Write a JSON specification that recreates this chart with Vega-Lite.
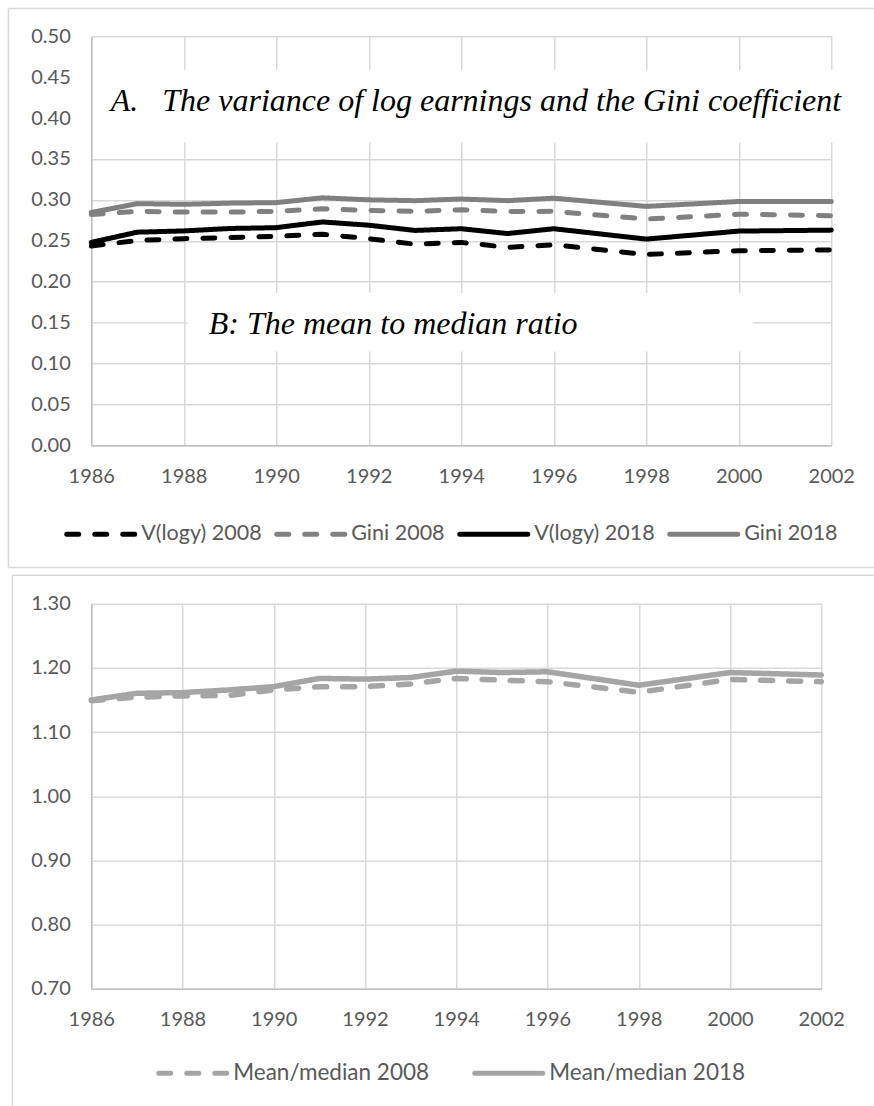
{
  "$schema": "https://vega.github.io/schema/vega-lite/v6.json",
  "background": "white",
  "padding": {"left": 7.25, "top": 7.25, "right": 0, "bottom": 0},
  "datasets": {
    "top": [
      {"year": 1986, "series": "V(logy) 2008", "value": 0.2437},
      {"year": 1987, "series": "V(logy) 2008", "value": 0.2504},
      {"year": 1988, "series": "V(logy) 2008", "value": 0.2525},
      {"year": 1989, "series": "V(logy) 2008", "value": 0.254},
      {"year": 1990, "series": "V(logy) 2008", "value": 0.2555},
      {"year": 1991, "series": "V(logy) 2008", "value": 0.258},
      {"year": 1992, "series": "V(logy) 2008", "value": 0.2525},
      {"year": 1993, "series": "V(logy) 2008", "value": 0.2458},
      {"year": 1994, "series": "V(logy) 2008", "value": 0.248},
      {"year": 1995, "series": "V(logy) 2008", "value": 0.242},
      {"year": 1996, "series": "V(logy) 2008", "value": 0.245},
      {"year": 1998, "series": "V(logy) 2008", "value": 0.2332},
      {"year": 2000, "series": "V(logy) 2008", "value": 0.2378},
      {"year": 2002, "series": "V(logy) 2008", "value": 0.2387},
      {"year": 1986, "series": "Gini 2008", "value": 0.282},
      {"year": 1987, "series": "Gini 2008", "value": 0.286},
      {"year": 1988, "series": "Gini 2008", "value": 0.285},
      {"year": 1989, "series": "Gini 2008", "value": 0.285},
      {"year": 1990, "series": "Gini 2008", "value": 0.286},
      {"year": 1991, "series": "Gini 2008", "value": 0.289},
      {"year": 1992, "series": "Gini 2008", "value": 0.287},
      {"year": 1993, "series": "Gini 2008", "value": 0.286},
      {"year": 1994, "series": "Gini 2008", "value": 0.288},
      {"year": 1995, "series": "Gini 2008", "value": 0.2857},
      {"year": 1996, "series": "Gini 2008", "value": 0.286},
      {"year": 1998, "series": "Gini 2008", "value": 0.2765},
      {"year": 2000, "series": "Gini 2008", "value": 0.2824},
      {"year": 2002, "series": "Gini 2008", "value": 0.2807},
      {"year": 1986, "series": "V(logy) 2018", "value": 0.248},
      {"year": 1987, "series": "V(logy) 2018", "value": 0.2605},
      {"year": 1988, "series": "V(logy) 2018", "value": 0.262},
      {"year": 1989, "series": "V(logy) 2018", "value": 0.265},
      {"year": 1990, "series": "V(logy) 2018", "value": 0.266},
      {"year": 1991, "series": "V(logy) 2018", "value": 0.273},
      {"year": 1992, "series": "V(logy) 2018", "value": 0.269},
      {"year": 1993, "series": "V(logy) 2018", "value": 0.2626},
      {"year": 1994, "series": "V(logy) 2018", "value": 0.2647},
      {"year": 1995, "series": "V(logy) 2018", "value": 0.2588},
      {"year": 1996, "series": "V(logy) 2018", "value": 0.2647},
      {"year": 1998, "series": "V(logy) 2018", "value": 0.252},
      {"year": 2000, "series": "V(logy) 2018", "value": 0.2618},
      {"year": 2002, "series": "V(logy) 2018", "value": 0.263},
      {"year": 1986, "series": "Gini 2018", "value": 0.2845},
      {"year": 1987, "series": "Gini 2018", "value": 0.2954},
      {"year": 1988, "series": "Gini 2018", "value": 0.2945},
      {"year": 1989, "series": "Gini 2018", "value": 0.296},
      {"year": 1990, "series": "Gini 2018", "value": 0.2966},
      {"year": 1991, "series": "Gini 2018", "value": 0.3025},
      {"year": 1992, "series": "Gini 2018", "value": 0.3},
      {"year": 1993, "series": "Gini 2018", "value": 0.299},
      {"year": 1994, "series": "Gini 2018", "value": 0.301},
      {"year": 1995, "series": "Gini 2018", "value": 0.299},
      {"year": 1996, "series": "Gini 2018", "value": 0.302},
      {"year": 1998, "series": "Gini 2018", "value": 0.292},
      {"year": 2000, "series": "Gini 2018", "value": 0.298},
      {"year": 2002, "series": "Gini 2018", "value": 0.298}
    ],
    "bottom": [
      {"year": 1986, "series": "Mean/median 2008", "value": 1.149},
      {"year": 1987, "series": "Mean/median 2008", "value": 1.1544},
      {"year": 1988, "series": "Mean/median 2008", "value": 1.1564},
      {"year": 1989, "series": "Mean/median 2008", "value": 1.157},
      {"year": 1990, "series": "Mean/median 2008", "value": 1.1656},
      {"year": 1991, "series": "Mean/median 2008", "value": 1.1708},
      {"year": 1992, "series": "Mean/median 2008", "value": 1.1708},
      {"year": 1993, "series": "Mean/median 2008", "value": 1.175},
      {"year": 1994, "series": "Mean/median 2008", "value": 1.1836},
      {"year": 1995, "series": "Mean/median 2008", "value": 1.181},
      {"year": 1996, "series": "Mean/median 2008", "value": 1.1785},
      {"year": 1998, "series": "Mean/median 2008", "value": 1.162},
      {"year": 2000, "series": "Mean/median 2008", "value": 1.182},
      {"year": 2002, "series": "Mean/median 2008", "value": 1.1785},
      {"year": 1986, "series": "Mean/median 2018", "value": 1.15},
      {"year": 1987, "series": "Mean/median 2018", "value": 1.1605},
      {"year": 1988, "series": "Mean/median 2018", "value": 1.1615},
      {"year": 1989, "series": "Mean/median 2018", "value": 1.1656},
      {"year": 1990, "series": "Mean/median 2018", "value": 1.1708},
      {"year": 1991, "series": "Mean/median 2018", "value": 1.1836},
      {"year": 1992, "series": "Mean/median 2018", "value": 1.1826},
      {"year": 1993, "series": "Mean/median 2018", "value": 1.185},
      {"year": 1994, "series": "Mean/median 2018", "value": 1.195},
      {"year": 1995, "series": "Mean/median 2018", "value": 1.1928},
      {"year": 1996, "series": "Mean/median 2018", "value": 1.194},
      {"year": 1998, "series": "Mean/median 2018", "value": 1.173},
      {"year": 2000, "series": "Mean/median 2018", "value": 1.1928},
      {"year": 2002, "series": "Mean/median 2018", "value": 1.189}
    ]
  },
  "config": {
    "view": {"stroke": null},
    "axis": {
      "labelFont": "Lato",
      "labelFontSize": 20,
      "labelColor": "#595959",
      "gridColor": "#d9d9d9",
      "gridWidth": 1.5,
      "domainColor": "#bfbfbf",
      "domainWidth": 1.5,
      "ticks": false,
      "tickSize": 0,
      "title": null
    },
    "legend": {
      "orient": "none",
      "direction": "horizontal",
      "title": null,
      "symbolType": "stroke",
      "symbolSize": 4624,
      "symbolStrokeWidth": 5,
      "labelFont": "Lato",
      "labelFontSize": 21.5,
      "labelColor": "#595959",
      "labelOffset": 4,
      "labelLimit": 400
    }
  },
  "spacing": 4.5,
  "resolve": {
    "scale": {"x": "independent", "y": "independent", "color": "independent", "strokeDash": "independent"},
    "legend": {"color": "independent", "strokeDash": "independent"}
  },
  "vconcat": [
    {
      "width": 740,
      "height": 409,
      "layer": [
        {
          "data": {"name": "top"},
          "mark": {"type": "line", "strokeWidth": 5, "strokeCap": "round", "strokeJoin": "round"},
          "encoding": {
            "x": {
              "field": "year", "type": "quantitative",
              "scale": {"domain": [1986, 2002], "nice": false, "zero": false},
              "axis": {"values": [1986, 1988, 1990, 1992, 1994, 1996, 1998, 2000, 2002], "format": "d", "labelPadding": 21, "labelFlush": false}
            },
            "y": {
              "field": "value", "type": "quantitative",
              "scale": {"domain": [0, 0.5], "nice": false},
              "axis": {"values": [0, 0.05, 0.1, 0.15, 0.2, 0.25, 0.3, 0.35, 0.4, 0.45, 0.5], "format": ".2f", "labelPadding": 21}
            },
            "color": {
              "field": "series", "type": "nominal",
              "scale": {"domain": ["V(logy) 2008", "Gini 2008", "V(logy) 2018", "Gini 2018"], "range": ["#000000", "#808080", "#000000", "#808080"]},
              "legend": {"columns": 4, "columnPadding": 4, "legendX": -27, "legendY": 461.5, "encode": {"symbols": {"update": {"strokeCap": {"value": "round"}}}}}
            },
            "strokeDash": {
              "field": "series", "type": "nominal",
              "scale": {"domain": ["V(logy) 2008", "Gini 2008", "V(logy) 2018", "Gini 2018"], "range": [[12, 16], [12, 16], [1, 0], [1, 0]]},
              "legend": {"columns": 4, "columnPadding": 4, "legendX": -27, "legendY": 461.5, "encode": {"symbols": {"update": {"strokeCap": {"value": "round"}}}}}
            }
          }
        },
        {
          "data": {"values": [{"label": "A"}]},
          "mark": {"type": "rect", "fill": "white"},
          "encoding": {
            "x": {"datum": 1986.04}, "x2": {"datum": 2002.25},
            "y": {"datum": 0.459}, "y2": {"datum": 0.37}
          }
        },
        {
          "data": {"values": [{"label": "B"}]},
          "mark": {"type": "rect", "fill": "white"},
          "encoding": {
            "x": {"datum": 1988.08}, "x2": {"datum": 2000.3},
            "y": {"datum": 0.1864}, "y2": {"datum": 0.1146}
          }
        },
        {
          "data": {"values": [{"label": "A.\u00a0\u00a0\u00a0The variance of log earnings and the Gini coefficient"}]},
          "mark": {"type": "text", "font": "Liberation Serif", "fontStyle": "italic", "fontSize": 32, "align": "left", "baseline": "alphabetic", "color": "#000000"},
          "encoding": {
            "x": {"datum": 1986.42}, "y": {"datum": 0.4084},
            "text": {"field": "label"}
          }
        },
        {
          "data": {"values": [{"label": "B: The mean to median ratio"}]},
          "mark": {"type": "text", "font": "Liberation Serif", "fontStyle": "italic", "fontSize": 32, "align": "left", "baseline": "alphabetic", "color": "#000000"},
          "encoding": {
            "x": {"datum": 1988.54}, "y": {"datum": 0.1366},
            "text": {"field": "label"}
          }
        },
        {
          "data": {"values": [{"edge": "top"}]},
          "mark": {"type": "rule", "color": "#d9d9d9", "strokeWidth": 1.5},
          "encoding": {"x": {"datum": 1984.209}, "x2": {"datum": 2002.931}, "y": {"datum": 0.53398}}
        },
        {
          "data": {"values": [{"edge": "bottom"}]},
          "mark": {"type": "rule", "color": "#d9d9d9", "strokeWidth": 1.5},
          "encoding": {"x": {"datum": 1984.209}, "x2": {"datum": 2002.931}, "y": {"datum": -0.1495}}
        },
        {
          "data": {"values": [{"edge": "left"}]},
          "mark": {"type": "rule", "color": "#d9d9d9", "strokeWidth": 1.5},
          "encoding": {"x": {"datum": 1984.209}, "y": {"datum": 0.53398}, "y2": {"datum": -0.1495}}
        }
      ]
    },
    {
      "width": 730,
      "height": 385,
      "layer": [
        {
          "data": {"name": "bottom"},
          "mark": {"type": "line", "strokeWidth": 5.5, "strokeCap": "round", "strokeJoin": "round"},
          "encoding": {
            "x": {
              "field": "year", "type": "quantitative",
              "scale": {"domain": [1986, 2002], "nice": false, "zero": false},
              "axis": {"values": [1986, 1988, 1990, 1992, 1994, 1996, 1998, 2000, 2002], "format": "d", "labelPadding": 21, "labelFlush": false}
            },
            "y": {
              "field": "value", "type": "quantitative",
              "scale": {"domain": [0.7, 1.3], "nice": false, "zero": false},
              "axis": {"values": [0.7, 0.8, 0.9, 1.0, 1.1, 1.2, 1.3], "format": ".2f", "labelPadding": 21}
            },
            "color": {
              "field": "series", "type": "nominal",
              "scale": {"domain": ["Mean/median 2008", "Mean/median 2018"], "range": ["#a5a5a5", "#a5a5a5"]},
              "legend": {"columns": 2, "columnPadding": 35, "labelFontSize": 22.5, "legendX": 65, "legendY": 433, "encode": {"symbols": {"update": {"strokeCap": {"value": "round"}}}}}
            },
            "strokeDash": {
              "field": "series", "type": "nominal",
              "scale": {"domain": ["Mean/median 2008", "Mean/median 2018"], "range": [[12, 16], [1, 0]]},
              "legend": {"columns": 2, "columnPadding": 35, "labelFontSize": 22.5, "legendX": 65, "legendY": 433, "encode": {"symbols": {"update": {"strokeCap": {"value": "round"}}}}}
            }
          }
        },
        {
          "data": {"values": [{"edge": "top"}]},
          "mark": {"type": "rule", "color": "#d9d9d9", "strokeWidth": 1.5},
          "encoding": {"x": {"datum": 1984.273}, "x2": {"datum": 2003.155}, "y": {"datum": 1.3444}}
        },
        {
          "data": {"values": [{"edge": "left"}]},
          "mark": {"type": "rule", "color": "#d9d9d9", "strokeWidth": 1.5},
          "encoding": {"x": {"datum": 1984.273}, "y": {"datum": 1.3444}, "y2": {"datum": 0.517}}
        }
      ]
    }
  ]
}
